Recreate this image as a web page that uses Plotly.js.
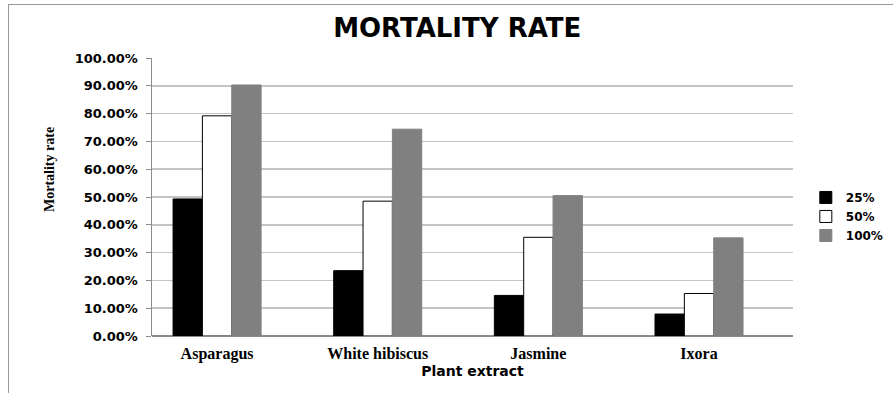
<!DOCTYPE html>
<html>
<head>
<meta charset="utf-8">
<script src="https://cdn.plot.ly/plotly-3.0.1.min.js"></script>
<style>
html,body{margin:0;padding:0;background:#fff;}
#frame{position:absolute;left:8px;top:4px;width:885px;height:389px;border-left:1px solid #9a9a9a;border-top:1px solid #9a9a9a;}
#chart{position:absolute;left:0;top:0;width:893px;height:393px;}
</style>
</head>
<body>
<div id="frame"></div>
<div id="chart"></div>
<script>
var categories = ["Asparagus", "White hibiscus", "Jasmine", "Ixora"];
var seriesNames = ["25%", "50%", "100%"];
var values25 = [0.493, 0.235, 0.146, 0.079];
var values50 = [0.792, 0.485, 0.355, 0.153];
var values100 = [0.903, 0.744, 0.505, 0.353];
var yTickValues = [0, 0.1, 0.2, 0.3, 0.4, 0.5, 0.6, 0.7, 0.8, 0.9, 1.0];

var traces = [
  {type: "bar", name: seriesNames[0], x: categories, y: values25,
   marker: {color: "#000000", line: {color: "#000000", width: 1}}},
  {type: "bar", name: seriesNames[1], x: categories, y: values50,
   marker: {color: "#ffffff", line: {color: "#000000", width: 1}}},
  {type: "bar", name: seriesNames[2], x: categories, y: values100,
   marker: {color: "#808080", line: {color: "#808080", width: 1}}}
];

var layout = {
  width: 893, height: 393,
  margin: {l: 152, r: 100, t: 58, b: 57, pad: 0, autoexpand: false},
  paper_bgcolor: "rgba(0,0,0,0)",
  plot_bgcolor: "rgba(0,0,0,0)",
  barmode: "group",
  bargap: 0.452,
  bargroupgap: 0,
  showlegend: true,
  title: {
    text: "<b>MORTALITY RATE</b>",
    font: {family: "DejaVu Sans", size: 26, color: "#000"},
    x: 0.512, xanchor: "center",
    y: 0.928, yanchor: "middle"
  },
  xaxis: {
    type: "category",
    range: [-0.405, 3.585],
    showgrid: false,
    showline: false,
    zeroline: false,
    ticks: "",
    ticklabelstandoff: 6,
    tickfont: {family: "Liberation Serif", size: 16, color: "#000", weight: "bold"},
    title: {text: "<b>Plant extract</b>", font: {family: "DejaVu Sans", size: 14, color: "#000"}, standoff: 4}
  },
  yaxis: {
    range: [0, 1.0],
    tickvals: yTickValues,
    tickformat: ".2%",
    showgrid: true,
    gridcolor: "#c4c4c4",
    gridwidth: 1.5,
    showline: true,
    linecolor: "#8c8c8c",
    linewidth: 1.5,
    ticks: "outside",
    ticklen: 5,
    tickcolor: "#8c8c8c",
    ticklabelstandoff: 5,
    zeroline: true,
    zerolinecolor: "#8c8c8c",
    zerolinewidth: 1.5,
    tickfont: {family: "DejaVu Sans", size: 13, color: "#000", weight: "bold"}
  },
  annotations: [{
    text: "<b>Mortality rate</b>",
    textangle: -90,
    xref: "paper", yref: "paper",
    x: (49 - 152) / 641, y: (336 - 169) / 278,
    xanchor: "center", yanchor: "middle",
    showarrow: false,
    font: {family: "Liberation Serif", size: 14, color: "#000"}
  }],
  legend: {
    x: 1.02, xanchor: "left",
    y: 0.43, yanchor: "middle",
    font: {family: "DejaVu Sans", size: 12, color: "#000", weight: "bold"},
    itemwidth: 30,
    tracegroupgap: 0,
    bgcolor: "rgba(0,0,0,0)"
  }
};

Plotly.newPlot("chart", traces, layout, {displayModeBar: false, staticPlot: true});
</script>
</body>
</html>
